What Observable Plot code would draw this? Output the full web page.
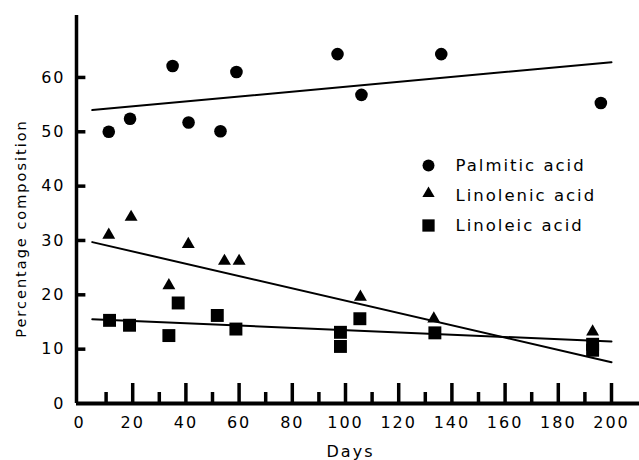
<!DOCTYPE html>
<html><head><meta charset="utf-8">
<script src="https://cdn.jsdelivr.net/npm/d3@7"></script>
<script src="https://cdn.jsdelivr.net/npm/@observablehq/plot@0.6"></script>
<style>
body{margin:0;background:#fff;}
#chart svg text{letter-spacing:2px;}
</style></head><body><div id="chart"></div>
<script>
// Data
const acids = ["Palmitic acid", "Linolenic acid", "Linoleic acid"];
const symbols = ["circle", "triangle", "square"];
const symbolR = [6.3, 4.8, 7.3];

const palmiticDays   = [11, 19, 35, 41, 53, 59, 97, 106, 136, 196];
const palmiticValues = [50, 52.4, 62.1, 51.7, 50.1, 61.0, 64.3, 56.8, 64.3, 55.3];

const linolenicDays   = [11, 19.4, 33.6, 40.9, 54.5, 60, 105.6, 133.2, 192.9];
const linolenicValues = [31, 34.3, 21.7, 29.3, 26.2, 26.2, 19.6, 15.6, 13.2];

const linoleicDays   = [11.3, 18.8, 33.6, 37.1, 51.8, 58.8, 98.1, 98.1, 105.4, 133.6, 192.9, 192.9];
const linoleicValues = [15.3, 14.4, 12.5, 18.5, 16.2, 13.7, 13.1, 10.5, 15.6, 13.0, 10.9, 9.8];

// Fitted straight lines (start and end, as drawn)
const fitDays = [4.8, 200];
const palmiticFit  = [54.0, 62.8];
const linolenicFit = [29.7, 7.6];
const linoleicFit  = [15.5, 11.4];

const xTicks = [0, 20, 40, 60, 80, 100, 120, 140, 160, 180, 200];
const xMinorTicks = [10, 30, 50, 70, 90, 110, 130, 150, 170, 190];
const yTicks = [0, 10, 20, 30, 40, 50, 60];

const xLabel = "Days";
const yLabel = "Percentage composition";

// Build tables
const pts = [];
[[palmiticDays, palmiticValues], [linolenicDays, linolenicValues], [linoleicDays, linoleicValues]]
  .forEach(([d, v], k) => d.forEach((day, i) => pts.push({acid: acids[k], day, value: v[i], k})));
const fits = [];
[palmiticFit, linolenicFit, linoleicFit].forEach((f, k) =>
  fitDays.forEach((day, i) => fits.push({acid: acids[k], day, value: f[i]})));

const W = 639, H = 460, mL = 79, mR = 28, mT = 15, mB = 57;
const xDomain = [0, 200], yDomain = [0, 71.4];
const pxX = (W - mL - mR) / (xDomain[1] - xDomain[0]);
const pxY = (H - mT - mB) / (yDomain[1] - yDomain[0]);
const axisLeft = -3 / pxX;            // vertical axis sits just left of 0
const axisRight = (W - mL) / pxX;     // horizontal axis runs to the right edge

const marks = [
  Plot.ruleX([axisLeft], {strokeWidth: 3.5, stroke: "#000"}),
  Plot.ruleY([0], {x1: axisLeft, x2: axisRight, strokeWidth: 4, stroke: "#000"}),
  Plot.ruleX(xTicks.filter(d => d > 0), {y1: 0, y2: 20 / pxY, strokeWidth: 3.5, stroke: "#000"}),
  Plot.ruleX(xMinorTicks, {y1: 0, y2: 11 / pxY, strokeWidth: 3.5, stroke: "#000"}),
  Plot.ruleY(yTicks.filter(d => d > 0), {x1: axisLeft, x2: 2.4, strokeWidth: 3.5, stroke: "#000"}),
  Plot.axisX(xTicks, {tickSize: 0, tickPadding: 13, label: null, fontSize: 16}),
  Plot.axisY(yTicks, {tickSize: 0, tickPadding: 14, fontSize: 16, label: null}),
  Plot.line(fits, {x: "day", y: "value", z: "acid", stroke: "#000", strokeWidth: 2}),
  ...acids.map((a, k) => Plot.dot(pts.filter(p => p.k === k), {
    x: "day", y: "value", symbol: () => symbols[k], r: symbolR[k], fill: "#000", stroke: "none"
  })),
  // legend
  ...acids.map((a, k) => Plot.dot([a], {
    frameAnchor: "top-left", dx: 349, dy: 150 + [0, 28, 60][k],
    symbol: () => symbols[k], r: symbolR[k] * 0.95, fill: "#000", stroke: "none"
  })),
  ...acids.map((a, k) => Plot.text([a], {
    frameAnchor: "top-left", dx: 376, dy: 150 + [0, 30, 60][k], text: d => d,
    textAnchor: "start", lineAnchor: "middle", fontSize: 16.5, fill: "#000"
  })),
  // axis titles
  Plot.text([yLabel], {x: () => -58 / pxX, y: () => (H - mB - 228) / pxY, rotate: -90,
    text: d => d, fontSize: 14.5, fill: "#000", lineAnchor: "middle"}),
  Plot.text([xLabel], {frameAnchor: "bottom", dx: 5, dy: 48, text: d => d,
    fontSize: 16, fill: "#000", lineAnchor: "middle"})
];

const chart = Plot.plot({
  width: W, height: H,
  marginLeft: mL, marginRight: mR, marginTop: mT, marginBottom: mB,
  x: {domain: xDomain},
  y: {domain: yDomain},
  style: {fontFamily: "'DejaVu Sans', sans-serif", fontSize: "15.5px", color: "#000", background: "#fff"},
  marks
});
document.getElementById("chart").appendChild(chart);
</script>
</body></html>
